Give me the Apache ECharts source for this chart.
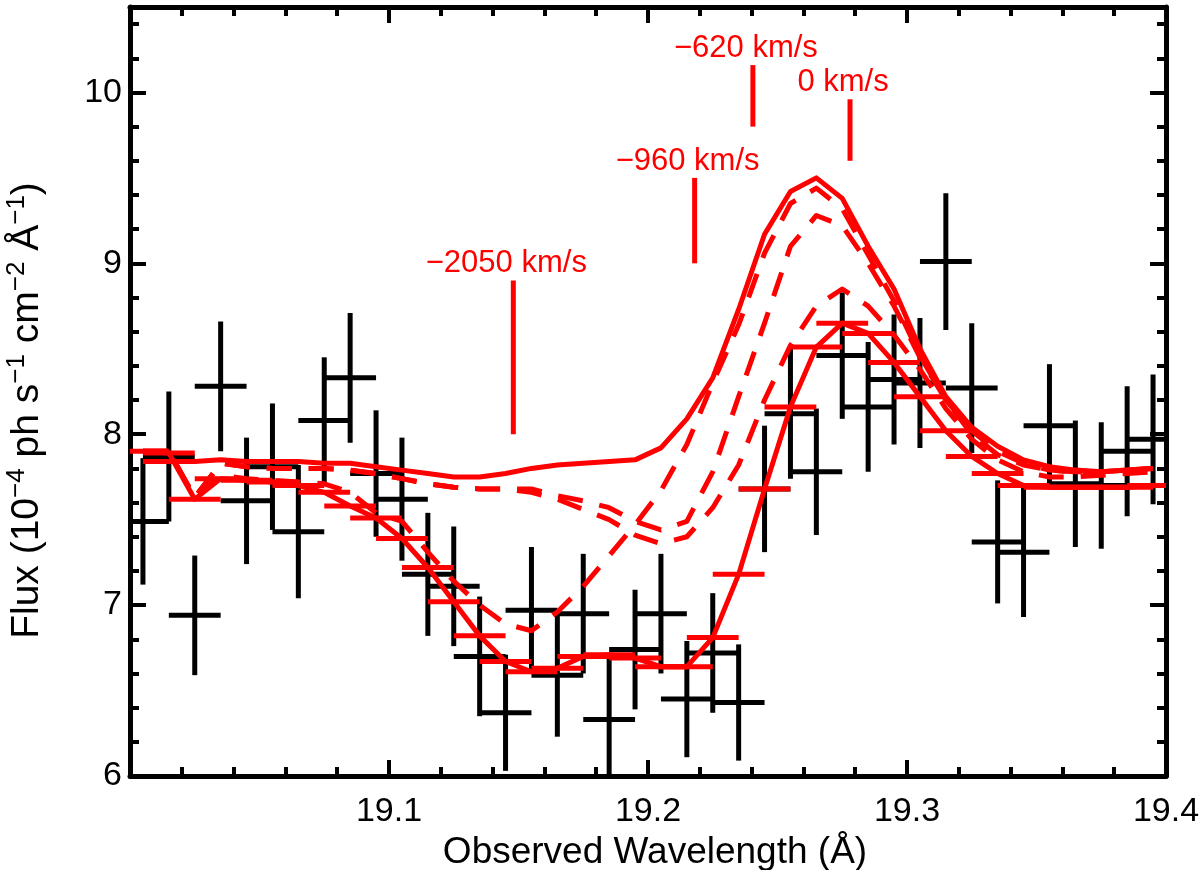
<!doctype html>
<html>
<head>
<meta charset="utf-8">
<title>O VIII line profile</title>
<style>
  html, body { margin: 0; background: #fff; }
  #main { width: 1200px; height: 870px; }
</style>
</head>
<body>
<div id="main"></div>
<script src="https://cdn.jsdelivr.net/npm/echarts@6/dist/echarts.min.js"></script>
<script>
// bin centres (Angstrom), each bin is +/- binHalf wide
var wave = [19.005, 19.015, 19.025, 19.035, 19.045, 19.055, 19.065, 19.075, 19.085, 19.095,
            19.105, 19.115, 19.125, 19.135, 19.145, 19.155, 19.165, 19.175, 19.185, 19.195,
            19.205, 19.215, 19.225, 19.235, 19.245, 19.255, 19.265, 19.275, 19.285, 19.295,
            19.305, 19.315, 19.325, 19.335, 19.345, 19.355, 19.365, 19.375, 19.385, 19.395];
var binHalf = 0.01;

// measured flux and 1-sigma error
var flux = [7.49, 7.87, 6.94, 8.28, 7.61, 7.81, 7.43, 8.08, 8.33, 7.77,
            7.62, 7.18, 7.11, 6.70, 6.37, 6.97, 6.59, 6.95, 6.33, 6.74,
            6.95, 6.45, 6.72, 6.43, 7.68, 8.12, 7.78, 8.46, 8.16, 8.32,
            8.30, 9.01, 8.27, 7.37, 7.31, 8.05, 7.71, 7.70, 7.90, 7.97];
var fluxErr = [0.37, 0.38, 0.35, 0.38, 0.37, 0.37, 0.39, 0.37, 0.38, 0.37,
               0.36, 0.36, 0.35, 0.35, 0.34, 0.37, 0.36, 0.35, 0.36, 0.35,
               0.35, 0.34, 0.35, 0.34, 0.37, 0.38, 0.37, 0.37, 0.38, 0.38,
               0.38, 0.40, 0.38, 0.36, 0.38, 0.36, 0.37, 0.37, 0.38, 0.38];

// models evaluated at the bin centres
var modelNoAbs = [7.84, 7.84, 7.84, 7.85, 7.84, 7.84, 7.84, 7.83, 7.83, 7.81,
                  7.79, 7.77, 7.75, 7.75, 7.77, 7.80, 7.82, 7.83, 7.84, 7.85,
                  7.92, 8.09, 8.33, 8.73, 9.17, 9.42, 9.50, 9.38, 9.10, 8.85,
                  8.50, 8.22, 8.04, 7.93, 7.85, 7.81, 7.79, 7.78, 7.79, 7.80];
var model2050 = [7.90, 7.90, 7.63, 7.76, 7.74, 7.73, 7.72, 7.71, 7.66, 7.54,
                 7.49, 7.31, 7.14, 7.00, 6.89, 6.85, 6.96, 7.11, 7.29, 7.47,
                 7.67, 7.94, 8.30, 8.64, 9.06, 9.35, 9.44, 9.32, 9.05, 8.78,
                 8.46, 8.20, 8.02, 7.90, 7.83, 7.79, 7.78, 7.78, 7.79, 7.80];
var model960 = [7.90, 7.90, 7.63, 7.83, 7.81, 7.80, 7.80, 7.80, 7.79, 7.77,
                7.74, 7.71, 7.69, 7.68, 7.68, 7.68, 7.64, 7.61, 7.57, 7.49,
                7.44, 7.49, 7.78, 8.22, 8.65, 9.10, 9.28, 9.22, 9.00, 8.75,
                8.45, 8.20, 8.00, 7.88, 7.82, 7.79, 7.78, 7.78, 7.79, 7.80];
var model620 = [7.90, 7.90, 7.63, 7.83, 7.81, 7.80, 7.80, 7.80, 7.79, 7.77,
                7.74, 7.71, 7.69, 7.68, 7.68, 7.66, 7.62, 7.56, 7.50, 7.41,
                7.36, 7.40, 7.57, 7.82, 8.20, 8.52, 8.75, 8.85, 8.75, 8.58,
                8.38, 8.15, 7.97, 7.85, 7.78, 7.75, 7.75, 7.76, 7.77, 7.78];
var modelBest = [7.90, 7.89, 7.62, 7.74, 7.73, 7.72, 7.70, 7.66, 7.58, 7.51,
                 7.39, 7.22, 7.02, 6.82, 6.67, 6.61, 6.63, 6.70, 6.71, 6.69,
                 6.64, 6.64, 6.81, 7.18, 7.68, 8.16, 8.51, 8.65, 8.59, 8.42,
                 8.22, 8.02, 7.87, 7.77, 7.70, 7.69, 7.69, 7.69, 7.69, 7.70];

// velocity markers
var markWave = [19.148, 19.218, 19.2405, 19.278];
var markLow = [8.0, 9.0, 9.8, 9.6];
var markHigh = [8.9, 9.5, 10.16, 9.96];
var markText = ['\u22122050 km/s', '\u2212960 km/s', '\u2212620 km/s', '0 km/s'];

var RED = '#ff0000';
var FONT = 'Liberation Sans';
var X_MIN = 19.0, X_MAX = 19.4, Y_MIN = 6, Y_MAX = 10.5;

function pairs(ys) {
    return wave.map(function (w, i) { return [w, ys[i]]; });
}

function modelLine(name, ys, dashed) {
    return {
        name: name,
        type: 'line',
        data: pairs(ys),
        showSymbol: false,
        silent: true,
        z: 4,
        lineStyle: {
            color: RED,
            width: 5,
            type: dashed ? [25, 17] : 'solid',
            join: 'round'
        }
    };
}

var chart = echarts.init(document.getElementById('main'));

var axisCommon = {
    type: 'value',
    axisLine: { onZero: false, lineStyle: { color: '#000', width: 5 } },
    axisTick: { inside: true, length: 16, lineStyle: { color: '#000', width: 4 } },
    minorTick: { show: true, splitNumber: 5, length: 9, lineStyle: { color: '#000', width: 4 } },
    splitLine: { show: false },
    minorSplitLine: { show: false }
};

chart.setOption({
    animation: false,
    backgroundColor: '#fff',
    grid: { left: 130, right: 34, top: 7, bottom: 94, containLabel: false, outerBoundsMode: 'none' },
    xAxis: [
        echarts.util.merge({
            position: 'bottom',
            min: X_MIN, max: X_MAX, interval: 0.1,
            name: 'Observed Wavelength (\u00c5)',
            nameLocation: 'middle',
            nameGap: 52,
            nameTextStyle: { color: '#000', fontSize: 37, fontFamily: FONT, padding: [0, 0, 0, 14] },
            axisLabel: {
                color: '#000', fontSize: 34, fontFamily: FONT, margin: 19,
                formatter: function (v) { return v < 19.05 ? '' : v.toFixed(1); }
            }
        }, axisCommon, true),
        echarts.util.merge({
            position: 'top',
            min: X_MIN, max: X_MAX, interval: 0.1,
            axisLabel: { show: false }
        }, axisCommon, true)
    ],
    yAxis: [
        echarts.util.merge({
            position: 'left',
            min: Y_MIN, max: Y_MAX, interval: 1,
            name: '{t|Flux (10}{s|\u22124}{t| ph s}{s|\u22121}{t| cm}{s|\u22122}{t| \u00c5}{s|\u22121}{t|)}',
            nameLocation: 'middle',
            nameGap: 80,
            nameTextStyle: {
                color: '#000', fontSize: 39, fontFamily: FONT,
                padding: [0, 38, 0, 0],
                rich: {
                    t: { color: '#000', fontSize: 39, fontFamily: FONT, lineHeight: 46 },
                    s: { color: '#000', fontSize: 26, fontFamily: FONT, verticalAlign: 'top', lineHeight: 46 }
                }
            },
            axisLabel: {
                color: '#000', fontSize: 34, fontFamily: FONT, margin: 8,
                formatter: function (v) { return Math.abs(v - Math.round(v)) > 1e-6 ? '' : String(v); }
            }
        }, axisCommon, true),
        echarts.util.merge({
            position: 'right',
            min: Y_MIN, max: Y_MAX, interval: 1,
            axisLabel: { show: false }
        }, axisCommon, true)
    ],
    series: [
        {
            name: 'data',
            type: 'custom',
            silent: true,
            z: 2,
            data: wave.map(function (w, i) { return [w, flux[i], fluxErr[i]]; }),
            renderItem: function (params, api) {
                var x = api.value(0), y = api.value(1), e = api.value(2);
                var l = api.coord([Math.max(X_MIN, x - binHalf), y]);
                var r = api.coord([Math.min(X_MAX, x + binHalf), y]);
                var t = api.coord([x, Math.min(Y_MAX, y + e)]);
                var b = api.coord([x, Math.max(Y_MIN, y - e)]);
                var st = { stroke: '#000', lineWidth: 5 };
                return {
                    type: 'group',
                    children: [
                        { type: 'line', shape: { x1: l[0], y1: l[1], x2: r[0], y2: r[1] }, style: st },
                        { type: 'line', shape: { x1: t[0], y1: t[1], x2: b[0], y2: b[1] }, style: st }
                    ]
                };
            }
        },
        modelLine('no absorption', modelNoAbs, false),
        modelLine('-2050 km/s', model2050, true),
        modelLine('-960 km/s', model960, true),
        modelLine('-620 km/s', model620, true),
        modelLine('best fit', modelBest, false),
        {
            name: 'best fit (binned)',
            type: 'custom',
            silent: true,
            z: 5,
            data: pairs(modelBest),
            renderItem: function (params, api) {
                var x = api.value(0), y = api.value(1);
                var l = api.coord([Math.max(X_MIN, x - binHalf), y]);
                var r = api.coord([Math.min(X_MAX, x + binHalf), y]);
                return {
                    type: 'line',
                    shape: { x1: l[0], y1: l[1], x2: r[0], y2: r[1] },
                    style: { stroke: RED, lineWidth: 5 }
                };
            }
        },
        {
            name: 'markers',
            type: 'custom',
            silent: true,
            z: 5,
            data: markWave.map(function (w, i) { return [w, markLow[i], markHigh[i], i]; }),
            renderItem: function (params, api) {
                var w = api.value(0);
                var lo = api.coord([w, api.value(1)]);
                var hi = api.coord([w, api.value(2)]);
                return {
                    type: 'group',
                    children: [
                        { type: 'line', shape: { x1: lo[0], y1: lo[1], x2: hi[0], y2: hi[1] },
                          style: { stroke: RED, lineWidth: 5 } },
                        { type: 'text', x: hi[0] - 7, y: hi[1] - 1,
                          style: { text: markText[api.value(3)], fill: RED, fontSize: 31, fontFamily: FONT,
                                   align: 'center', verticalAlign: 'bottom' } }
                    ]
                };
            }
        }
    ]
});

window.addEventListener('resize', function () {
    chart.resize();
});
</script>
</body>
</html>
